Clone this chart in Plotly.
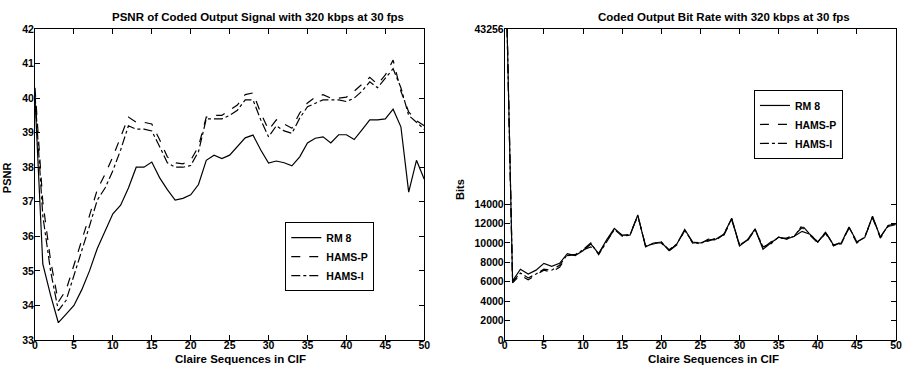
import plotly.graph_objects as go
from plotly.subplots import make_subplots

frames = list(range(51))

rm8_psnr = [40.0, 35.2, 34.3, 33.5, 33.75, 34.0, 34.45, 35.0, 35.65, 36.15,
            36.65, 36.9, 37.4, 38.0, 38.0, 38.15, 37.7, 37.35, 37.05, 37.1,
            37.2, 37.5, 38.2, 38.35, 38.25, 38.35, 38.6, 38.85, 38.93, 38.5,
            38.12, 38.18, 38.13, 38.04, 38.3, 38.7, 38.84, 38.88, 38.7, 38.94,
            38.94, 38.8, 39.08, 39.37, 39.37, 39.4, 39.68, 39.17, 37.28, 38.2, 37.65]
hams_p_psnr = [40.3, 37.0, 35.3, 34.1, 34.45, 35.15, 35.9, 36.6, 37.35, 37.8,
               38.3, 38.9, 39.45, 39.3, 39.3, 39.25, 38.8, 38.3, 38.13, 38.1,
               38.2, 38.6, 39.45, 39.5, 39.5, 39.65, 39.8, 40.1, 40.15, 39.57,
               39.08, 39.37, 39.25, 39.13, 39.57, 39.86, 40.03, 40.1, 40.0, 40.0,
               40.03, 40.2, 40.4, 40.6, 40.4, 40.67, 41.1, 40.2, 39.6, 39.35, 39.2]
hams_i_psnr = [40.1, 36.6, 35.0, 33.85, 34.15, 34.85, 35.6, 36.3, 37.05, 37.4,
               37.9, 38.5, 39.2, 39.1, 39.1, 39.05, 38.6, 38.13, 38.0, 38.0,
               38.05, 38.45, 39.4, 39.4, 39.4, 39.5, 39.65, 39.95, 39.95, 39.37,
               38.88, 39.2, 39.05, 38.98, 39.42, 39.75, 39.86, 39.95, 39.95, 39.95,
               39.9, 40.0, 40.2, 40.47, 40.3, 40.58, 40.85, 40.3, 39.5, 39.3, 39.1]

rm8_bits = [43256, 6100, 7300, 6800, 7200, 7900, 7600, 7900, 8900, 8700,
            9200, 9900, 8900, 10300, 11500, 10800, 10800, 12900, 9600, 10000,
            10100, 9200, 9900, 11400, 10100, 10000, 10300, 10400, 10900, 12550,
            9700, 10300, 11450, 9350, 10000, 10600, 10400, 10700, 11200, 10900,
            10100, 11100, 9800, 10000, 11650, 10100, 10550, 12750, 10600, 11800, 12000]
hams_p_bits = [43256, 5900, 6700, 6200, 6700, 7200, 7000, 7500, 8700, 8800,
               9300, 9600, 8900, 10200, 11400, 10800, 10900, 12800, 9700, 10000,
               10000, 9200, 9800, 11300, 10000, 10100, 10200, 10500, 10800, 12400,
               9800, 10200, 11400, 9500, 10100, 10500, 10500, 10800, 11600, 10800,
               10000, 11000, 9700, 10100, 11500, 10000, 10600, 12600, 10500, 11700, 11900]
hams_i_bits = [43256, 6000, 6900, 6400, 6800, 7300, 7200, 7700, 8800, 8800,
               9300, 10000, 8800, 10100, 11400, 10700, 10800, 12800, 9700, 9900,
               10100, 9300, 9900, 11300, 10100, 9900, 10400, 10300, 10900, 12500,
               9800, 10300, 11400, 9600, 9900, 10600, 10400, 10700, 11800, 10900,
               10100, 11100, 9800, 9900, 11600, 10100, 10600, 12700, 10600, 11800, 12000]

series_names = ["RM 8", "HAMS-P", "HAMS-I"]
dashes = ["solid", "dash", "dashdot"]

x_ticks = [0, 5, 10, 15, 20, 25, 30, 35, 40, 45, 50]
psnr_ticks = [33, 34, 35, 36, 37, 38, 39, 40, 41, 42]
bits_ticks = [0, 2000, 4000, 6000, 8000, 10000, 12000, 14000]
bits_top_label = "43256"
bits_axis_top = 32060

FONT = "Liberation Sans, Arial, sans-serif"

fig = make_subplots(rows=1, cols=2, horizontal_spacing=0.09)

for name, d, ys in zip(series_names, dashes, [rm8_psnr, hams_p_psnr, hams_i_psnr]):
    fig.add_trace(go.Scatter(x=frames, y=ys, mode="lines", name=name,
                             line=dict(color="black", width=1.2, dash=d),
                             legend="legend"), row=1, col=1)
for name, d, ys in zip(series_names, dashes, [rm8_bits, hams_p_bits, hams_i_bits]):
    fig.add_trace(go.Scatter(x=frames, y=ys, mode="lines", name=name,
                             line=dict(color="black", width=1.2, dash=d),
                             legend="legend2"), row=1, col=2)

axis_common = dict(showline=True, linecolor="black", linewidth=1, mirror="allticks",
                   ticks="inside", ticklen=5, tickcolor="black", showgrid=False,
                   zeroline=False,
                   tickfont=dict(family=FONT, size=10.5, color="black", weight="bold"))

fig.update_xaxes(range=[0, 50], tickvals=x_ticks, ticklabelstandoff=-5,
                 domain=[0, 0.4521], **axis_common, row=1, col=1)
fig.update_xaxes(range=[0, 50], tickvals=x_ticks, ticklabelstandoff=-5,
                 domain=[0.5456, 1.0], **axis_common, row=1, col=2)
fig.update_yaxes(range=[33, 42], tickvals=psnr_ticks, ticklabelstandoff=-2,
                 **axis_common, row=1, col=1)
fig.update_yaxes(range=[0, bits_axis_top], tickvals=bits_ticks + [bits_axis_top],
                 ticktext=[str(v) for v in bits_ticks] + [bits_top_label],
                 ticklabelstandoff=-2, **axis_common, row=1, col=2)

legend_style = dict(bgcolor="white", bordercolor="black", borderwidth=1,
                    font=dict(family=FONT, size=10.5, color="black", weight="bold"),
                    xanchor="left", yanchor="top", tracegroupgap=0,
                    itemwidth=30)

W, H = 912, 365
ml, mr, mt, mb = 35, 10, 29, 25
pw, ph = W - ml - mr, H - mt - mb


def px_ann(text, px, py, angle=0, size=11.5):
    return dict(text=text, x=(px - ml) / pw, y=(H - mb - py) / ph,
                xref="paper", yref="paper", xanchor="center", yanchor="middle",
                showarrow=False, textangle=angle,
                font=dict(family=FONT, size=size, color="black", weight="bold"))


fig.update_layout(
    width=W, height=H,
    margin=dict(l=ml, r=mr, t=mt, b=mb),
    paper_bgcolor="white", plot_bgcolor="white",
    font=dict(family=FONT, size=11, color="black"),
    legend=dict(x=0.2907, y=0.379, **legend_style),
    legend2=dict(x=0.835, y=0.804, **legend_style),
    annotations=[
        px_ann("PSNR of Coded Output Signal with 320 kbps at 30 fps", 260, 17),
        px_ann("Coded Output Bit Rate with 320 kbps at 30 fps", 729, 17),
        px_ann("Claire Sequences in CIF", 242, 358.5, size=11.5),
        px_ann("Claire Sequences in CIF", 718, 358.5, size=11.5),
        px_ann("PSNR", 7, 178, angle=-90, size=11),
        px_ann("Bits", 463, 190, angle=-90, size=11),
    ],
)

fig.write_html(
    "out.html",
    config={"displayModeBar": False},
    post_script="document.body.style.margin='0';document.body.style.overflow='hidden';",
)
